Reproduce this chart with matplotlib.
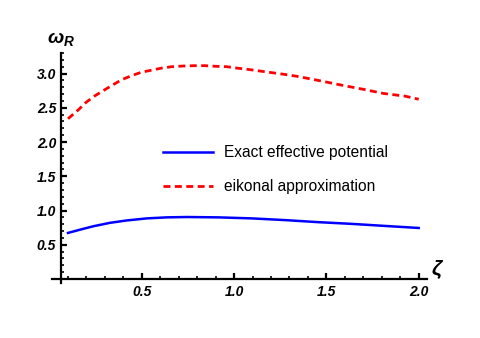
import matplotlib
matplotlib.use("Agg")
import matplotlib.pyplot as plt
from matplotlib.ticker import MultipleLocator

plt.rcParams["font.family"] = ["Liberation Sans", "DejaVu Sans"]
plt.rcParams["mathtext.fontset"] = "custom"
plt.rcParams["mathtext.it"] = "Liberation Sans:italic:bold"
plt.rcParams["mathtext.rm"] = "Liberation Sans"

# values
zeta_eik = [0.10, 0.156, 0.198, 0.243, 0.291, 0.34, 0.391, 0.445, 0.499, 0.554,
            0.608, 0.662, 0.725, 0.788, 0.842, 0.906, 0.96, 1.014, 1.077, 1.131,
            1.185, 1.24, 1.294, 1.35, 1.474, 1.583, 1.70, 1.808, 1.926, 2.0]
omega_eik = [2.34, 2.47, 2.58, 2.67, 2.75, 2.83, 2.91, 2.97, 3.02, 3.05,
             3.08, 3.10, 3.11, 3.115, 3.115, 3.105, 3.10, 3.08, 3.06, 3.04,
             3.02, 3.00, 2.98, 2.955, 2.89, 2.83, 2.77, 2.71, 2.67, 2.625]

zeta_exact = [0.10, 0.165, 0.237, 0.327, 0.418, 0.527, 0.635, 0.743, 0.914,
              1.095, 1.276, 1.456, 1.637, 1.817, 2.0]
omega_exact = [0.673, 0.72, 0.77, 0.82, 0.855, 0.885, 0.90, 0.905, 0.90,
               0.885, 0.86, 0.83, 0.805, 0.775, 0.745]

x_ticks = [0.5, 1.0, 1.5, 2.0]
y_ticks = [0.5, 1.0, 1.5, 2.0, 2.5, 3.0]

fig = plt.figure(figsize=(4.8, 3.38), dpi=100)
ax = fig.add_axes([61 / 480, 59 / 338, 366 / 480, 226 / 338])

ax.plot(zeta_exact, omega_exact, color="#0000ff", lw=1.8,
        label="Exact effective potential", solid_joinstyle="round")
ax.plot(zeta_eik, omega_eik, color="#ff0000", lw=2.0, ls=(0, (2.5, 1.6)),
        label="eikonal approximation")

ax.set_xlim(0.062, 2.045)
ax.set_ylim(0, 3.3)

for s in ["top", "right"]:
    ax.spines[s].set_visible(False)
for s in ["left", "bottom"]:
    ax.spines[s].set_linewidth(1.6)
ax.spines["left"].set_bounds(-0.06, 3.3)
ax.spines["bottom"].set_bounds(0.013, 2.045)

ax.set_xticks(x_ticks)
ax.set_yticks(y_ticks)
ax.xaxis.set_minor_locator(MultipleLocator(0.1))
ax.yaxis.set_minor_locator(MultipleLocator(0.1))
ax.tick_params(which="major", direction="in", length=4.5, width=1.6,
               labelsize=10, pad=4)
ax.tick_params(which="minor", direction="in", length=2.5, width=1.2)
ax.tick_params(axis="y", which="major", pad=3.5)
for lab in ax.get_xticklabels() + ax.get_yticklabels():
    lab.set_fontweight("bold")
    lab.set_fontstyle("italic")

fig.text(61 / 480, 1 - 39 / 338, r"$\omega_R$", fontsize=14, ha="center", va="center")
fig.text(438 / 480, 1 - 270 / 338, r"$\zeta$", fontsize=15, ha="center", va="center")

ax.legend(loc="upper left", bbox_to_anchor=(163 / 480, 1 - 145 / 338),
          bbox_transform=fig.transFigure, frameon=False, fontsize=11.2,
          handlelength=3.2, handletextpad=0.75, labelspacing=1.25,
          borderpad=0, borderaxespad=0)

fig.savefig("out.png", dpi=100)
